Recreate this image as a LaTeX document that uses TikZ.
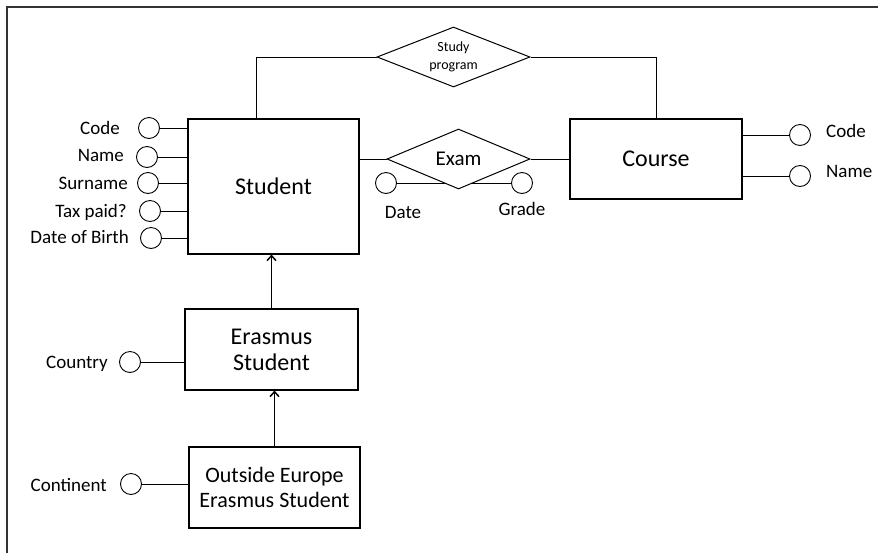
\documentclass[tikz,border=0pt]{standalone}
\usepackage{fontspec}
\setmainfont{Carlito}
\usetikzlibrary{shapes.geometric,positioning,arrows.meta}
\tikzset{entity/.style={draw=black,line width=1.1pt,rectangle,align=center,inner sep=0pt,font=\fontsize{24}{26}\selectfont}}
\tikzset{rel/.style={draw=black,line width=1pt,diamond,inner sep=0pt,fill=white,align=center}}
\tikzset{attr/.style={draw=black,line width=0.9pt,circle,minimum size=21pt,inner sep=0pt}}
\tikzset{attrtext/.style={inner sep=0pt,font=\fontsize{19}{21}\selectfont}}
\tikzset{link/.style={line width=0.9pt}}
\tikzset{isa/.style={line width=1.5pt,-{Straight Barb[length=5pt,width=9pt]}}}

\begin{document}
\begin{tikzpicture}[x=1pt,y=-1pt]
    \useasboundingbox (0,0) rectangle (878,555);
    % frame lines
    \coordinate (ftop) at (7,7);
    \coordinate (fright) at (878,7);
    \coordinate (fbot) at (7,553);
    \draw[line width=1.2pt,black!80] (fbot) -- (ftop) -- (fright);

    % entities
    \node[entity,minimum width=171pt,minimum height=135pt] (student) at (273.5,186.5) {Student};
    \node[entity,minimum width=172pt,minimum height=80pt] (course) at (656,159) {Course};
    \node[entity,minimum width=173pt,minimum height=81pt] (erasmus) at (271.5,349.5) {Erasmus\\Student};
    \node[entity,minimum width=171pt,minimum height=81pt,font=\fontsize{22}{25}\selectfont] (outside) at (274.5,487.5) {Outside Europe\\Erasmus Student};

    % attributes of Student
    \node[attr] (scode) at (149,128) {};
    \node[attr] (sname) at (147,157) {};
    \node[attr] (ssurname) at (148,183) {};
    \node[attr] (stax) at (150,211) {};
    \node[attr] (sbirth) at (151,238) {};
    \node[attrtext,anchor=east] at (120,128) {Code};
    \node[attrtext,anchor=east] at (124,155) {Name};
    \node[attrtext,anchor=east] at (128,183) {Surname};
    \node[attrtext,anchor=east] at (127,212) {Tax paid?};
    \node[attrtext,anchor=east] at (129,237) {Date of Birth};
    \draw[link] (scode) -- (scode -| student.west);
    \draw[link] (sname) -- (sname -| student.west);
    \draw[link] (ssurname) -- (ssurname -| student.west);
    \draw[link] (stax) -- (stax -| student.west);
    \draw[link] (sbirth) -- (sbirth -| student.west);

    % attributes of Course
    \node[attr] (ccode) at (800,135) {};
    \node[attr] (cname) at (800,176) {};
    \node[attrtext,anchor=west] at (826,131) {Code};
    \node[attrtext,anchor=west] at (826,171) {Name};
    \draw[link] (ccode) -- (ccode -| course.east);
    \draw[link] (cname) -- (cname -| course.east);

    % attributes of the subclasses
    \node[attr] (country) at (130,362) {};
    \node[attrtext,anchor=east] at (108,364) {Country};
    \draw[link] (country) -- (country -| erasmus.west);
    \node[attr] (continent) at (131,484) {};
    \node[attrtext,anchor=east] at (107,485) {Continent};
    \draw[link] (continent) -- (continent -| outside.west);

    % Exam with its attributes (line runs under the diamond)
    \node[attr] (date) at (386,183) {};
    \node[attr] (grade) at (522,183) {};
    \draw[link] (date) -- (grade);
    \node[attrtext] at (403,212) {Date};
    \node[attrtext] at (522,209) {Grade};
    \node[rel,minimum width=143pt,minimum height=60pt,aspect=2.38,font=\fontsize{21}{23}\selectfont] (exam) at (458.5,159) {Exam};
    \draw[link] (exam.west) -- (exam.west -| student.east);
    \draw[link] (exam.east) -- (course.west);

    % Study program
    \node[rel,minimum width=153pt,minimum height=60pt,aspect=2.55,font=\fontsize{14}{17}\selectfont] (study) at (453.5,57) {\raisebox{1pt}{Study}\\program};
    \draw[link] (study.west) -| ([xshift=-17pt]student.north);
    \draw[link] (study.east) -| (course.north);

    % specialisation arrows
    \draw[isa] (erasmus.north) -- (erasmus.north |- student.south);
    \draw[isa] (outside.north) -- (outside.north |- erasmus.south);
\end{tikzpicture}
\end{document}
